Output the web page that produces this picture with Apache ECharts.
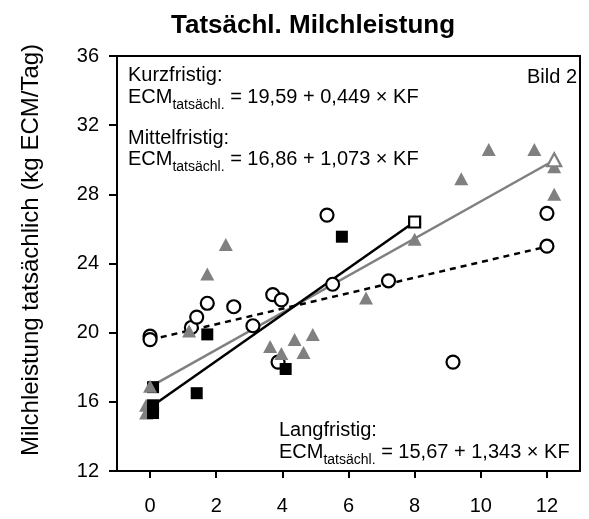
<!DOCTYPE html>
<html>
<head>
<meta charset="utf-8">
<script src="https://cdn.jsdelivr.net/npm/echarts@6/dist/echarts.min.js"></script>
<style>
html,body{margin:0;padding:0;background:#fff;}
#chart{width:589px;height:519px;}
</style>
</head>
<body>
<div id="chart"></div>
<script>
// ---- data ----
var xTicks = [0, 2, 4, 6, 8, 10, 12];
var openCircles = [[0,19.8],[0,19.6],[1.25,20.3],[1.41,20.9],[1.73,21.7],[2.53,21.5],[3.11,20.4],[3.71,22.2],[3.97,21.9],[3.87,18.3],[5.52,22.8],[5.35,26.8],[7.21,23.0],[9.16,18.3],[12.0,26.9],[12.0,25.0]];
var blackSquares = [[0.09,16.85],[0.09,15.8],[0.09,15.35],[1.41,16.5],[1.73,19.9],[4.1,17.9],[5.8,25.55]];
var grayTriangles = [[0,16.9],[1.18,20.1],[1.73,23.4],[2.29,25.1],[3.63,19.2],[3.97,18.8],[4.37,19.6],[4.64,18.85],[4.92,19.9],[6.53,22.0],[8.0,25.4],[9.41,28.9],[10.24,30.6],[11.62,30.6],[12.22,29.6],[12.22,28.0]];
var grayTrianglesBack = [[-0.12,15.8],[-0.12,15.35]];
var openSquare = [[8.0,26.4]];
var openTriangle = [[12.22,30.0]];
var kurzLine = [[0,19.59],[12,24.98]];
var mittelLine = [[0,16.86],[12.22,29.97]];
var langLine = [[0,15.67],[8,26.41]];

var titleText = 'Tatsächl. Milchleistung';
var yName = 'Milchleistung tatsächlich (kg ECM/Tag)';
var kurzLabel = 'Kurzfristig:';
var kurzEq = ' = 19,59 + 0,449 × KF';
var mittelLabel = 'Mittelfristig:';
var mittelEq = ' = 16,86 + 1,073 × KF';
var langLabel = 'Langfristig:';
var langEq = ' = 15,67 + 1,343 × KF';
var bildLabel = 'Bild 2';

var FONT = '"Liberation Sans", Arial, Helvetica, sans-serif';
var rich = {
  m: {fontSize: 20, lineHeight: 30, fontFamily: FONT, fill: '#000', color: '#000'},
  s: {fontSize: 14, lineHeight: 16, verticalAlign: 'bottom', fontFamily: FONT, fill: '#000', color: '#000'}
};
function txt(x, y, str, align) {
  return {type: 'text', x: x, y: y, z: 100,
    style: {text: str, rich: rich, align: align || 'left', verticalAlign: 'top', fill: '#000', font: '20px ' + FONT}};
}
function eq(x, y, rest) { return txt(x, y, '{m|ECM}{s|tatsächl.}{m|' + rest + '}'); }

var chart = echarts.init(document.getElementById('chart'), null, {renderer: 'canvas'});
var option = {
  backgroundColor: '#fff',
  animation: false,
  title: {text: titleText, left: 166, top: 8,
    textStyle: {fontSize: 26, fontWeight: 'bold', fontFamily: FONT, color: '#000'}},
  grid: {left: 117, right: 9, top: 56, bottom: 48, show: true, borderColor: '#000', borderWidth: 2, containLabel: false},
  xAxis: {
    type: 'value', min: -1, max: 13,
    axisLine: {show: true, onZero: false, lineStyle: {color: '#000', width: 2}},
    axisTick: {show: true, length: 7, inside: false, customValues: xTicks, lineStyle: {color: '#000', width: 2}},
    axisLabel: {customValues: xTicks, margin: 25, fontSize: 20, fontFamily: FONT, color: '#000'},
    splitLine: {show: false}
  },
  yAxis: {
    type: 'value', min: 12, max: 36, interval: 4,
    axisLine: {show: true, onZero: false, lineStyle: {color: '#000', width: 2}},
    axisTick: {show: true, length: 8, inside: false, lineStyle: {color: '#000', width: 2}},
    axisLabel: {margin: 18, fontSize: 20, fontFamily: FONT, color: '#000'},
    splitLine: {show: false}
  },
  graphic: [
    {type: 'text', x: 31, y: 250, rotation: Math.PI / 2, z: 100,
      style: {text: yName, align: 'center', verticalAlign: 'middle', fill: '#000', font: '24px ' + FONT}},
    txt(128, 60.5, '{m|' + kurzLabel + '}'),
    eq(128, 82, kurzEq),
    txt(128, 123, '{m|' + mittelLabel + '}'),
    eq(128, 144, mittelEq),
    txt(577, 62, '{m|' + bildLabel + '}', 'right'),
    txt(279, 415, '{m|' + langLabel + '}'),
    eq(279, 437, langEq)
  ],
  series: [
    {type: 'line', data: mittelLine, symbol: 'none', z: 2, lineStyle: {color: '#808080', width: 2.5}},
    {type: 'line', data: langLine, symbol: 'none', z: 3, lineStyle: {color: '#000', width: 2.5}},
    {type: 'line', data: kurzLine, symbol: 'none', z: 3, lineStyle: {color: '#000', width: 2.5, type: [6, 5]}},
    {type: 'scatter', data: grayTrianglesBack, symbol: 'triangle', symbolSize: [14, 13], z: 4, itemStyle: {color: '#808080', opacity: 1}},
    {type: 'scatter', data: openCircles, symbol: 'circle', symbolSize: 13, z: 5, itemStyle: {color: '#fff', borderColor: '#000', borderWidth: 2.2, opacity: 1}},
    {type: 'scatter', data: blackSquares, symbol: 'rect', symbolSize: 12, z: 6, itemStyle: {color: '#000', opacity: 1}},
    {type: 'scatter', data: grayTriangles, symbol: 'triangle', symbolSize: [14, 13], z: 7, itemStyle: {color: '#808080', opacity: 1}},
    {type: 'scatter', data: openSquare, symbol: 'rect', symbolSize: 11, z: 8, itemStyle: {color: '#fff', borderColor: '#000', borderWidth: 2.2, opacity: 1}},
    {type: 'scatter', data: openTriangle, symbol: 'triangle', symbolSize: [14, 13], z: 8, itemStyle: {color: '#fff', borderColor: '#808080', borderWidth: 2.2, opacity: 1}}
  ]
};
chart.setOption(option);
</script>
</body>
</html>
